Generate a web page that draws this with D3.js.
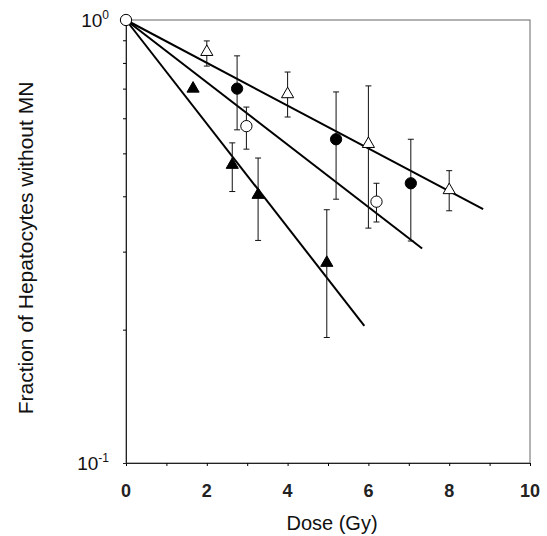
<!DOCTYPE html>
<html>
<head>
<meta charset="utf-8">
<script src="https://cdn.jsdelivr.net/npm/d3@7"></script>
<style>
  body { margin: 0; background: #fff; }
  svg { font-family: "Liberation Sans", Arial, sans-serif; }
</style>
</head>
<body>
<div id="chart"></div>
<script>
// values (dose in Gy, fraction without MN)
const openTriDose = [2, 4, 6, 8];
const openTriVal  = [0.847, 0.68, 0.525, 0.413];
const openTriHi   = [0.897, 0.763, 0.71, 0.457];
const openTriLo   = [0.787, 0.604, 0.339, 0.371];

const fillCircDose = [2.75, 5.2, 7.05];
const fillCircVal  = [0.70, 0.538, 0.428];
const fillCircHi   = [0.83, 0.688, 0.538];
const fillCircLo   = [0.565, 0.394, 0.317];

const openCircDose = [0, 2.98, 6.2];
const openCircVal  = [1.0, 0.576, 0.389];
const openCircHi   = [null, 0.636, 0.428];
const openCircLo   = [null, 0.511, 0.35];

const fillTriDose = [1.66, 2.63, 3.27, 4.97];
const fillTriVal  = [0.70, 0.471, 0.403, 0.283];
const fillTriHi   = [null, 0.528, 0.488, 0.373];
const fillTriLo   = [null, 0.41, 0.318, 0.192];

// fitted lines: start at (0, 1), end point
const fitEndDose = [8.84, 7.33, 5.9];
const fitEndVal  = [0.374, 0.305, 0.204];

const xTicks = [0, 2, 4, 6, 8, 10];
const xMinor = [1, 3, 5, 7, 9];
const yMinor = [0.2, 0.3, 0.4, 0.5, 0.6, 0.7, 0.8, 0.9];

const width = 547, height = 536;
const margin = {top: 20, right: 17, bottom: 73, left: 126};

const x = d3.scaleLinear().domain([0, 10]).range([margin.left, width - margin.right]);
const y = d3.scaleLog().domain([0.1, 1]).range([height - margin.bottom, margin.top]);

const svg = d3.select("#chart").append("svg")
  .attr("width", width)
  .attr("height", height);

// frame (top/right lighter)
svg.append("rect")
  .attr("x", x(0)).attr("y", y(1))
  .attr("width", x(10) - x(0)).attr("height", y(0.1) - y(1))
  .attr("fill", "none")
  .attr("stroke", "#666")
  .attr("stroke-width", 1);

// x axis
const xAxis = svg.append("g")
  .attr("transform", `translate(0,${y(0.1)})`)
  .call(d3.axisBottom(x).tickValues(xTicks.concat(xMinor)).tickSize(3).tickFormat(""));
xAxis.select(".domain").attr("stroke", "#222");

svg.append("g")
  .selectAll("text")
  .data(xTicks)
  .join("text")
  .attr("x", d => x(d))
  .attr("y", y(0.1) + 34)
  .attr("text-anchor", "middle")
  .attr("font-size", 18)
  .attr("font-weight", "bold")
  .attr("fill", "#222")
  .text(d => d);

svg.append("text")
  .attr("x", (x(0) + x(10)) / 2 + 4)
  .attr("y", 530)
  .attr("text-anchor", "middle")
  .attr("font-size", 20)
  .attr("fill", "#111")
  .text("Dose (Gy)");

// y axis
const yAxis = svg.append("g")
  .attr("transform", `translate(${x(0)},0)`)
  .call(d3.axisLeft(y).tickValues(yMinor).tickSize(3).tickFormat(""));
yAxis.select(".domain").attr("stroke", "#222");

[[1, "0"], [0.1, "-1"]].forEach(([v, e]) => {
  const t = svg.append("text")
    .attr("x", x(0) - 17)
    .attr("y", y(v) + 7)
    .attr("text-anchor", "end")
    .attr("font-size", 19)
    .attr("fill", "#111")
    .text("10");
  t.append("tspan")
    .attr("dy", -8)
    .attr("font-size", 12)
    .text(e);
});

svg.append("text")
  .attr("transform", `translate(33,248) rotate(-90)`)
  .attr("text-anchor", "middle")
  .attr("font-size", 21)
  .attr("fill", "#111")
  .text("Fraction of Hepatocytes without MN");

// fitted lines
svg.append("g")
  .selectAll("line")
  .data(fitEndDose)
  .join("line")
  .attr("x1", x(0)).attr("y1", y(1))
  .attr("x2", d => x(d))
  .attr("y2", (d, i) => y(fitEndVal[i]))
  .attr("stroke", "#000")
  .attr("stroke-width", 2);

// error bars
function errorBars(dose, hi, lo) {
  const g = svg.append("g").attr("stroke", "#111").attr("stroke-width", 1);
  dose.forEach((d, i) => {
    if (hi[i] == null) return;
    g.append("line").attr("x1", x(d)).attr("x2", x(d)).attr("y1", y(hi[i])).attr("y2", y(lo[i]));
    g.append("line").attr("x1", x(d) - 3).attr("x2", x(d) + 3).attr("y1", y(hi[i])).attr("y2", y(hi[i]));
    g.append("line").attr("x1", x(d) - 3).attr("x2", x(d) + 3).attr("y1", y(lo[i])).attr("y2", y(lo[i]));
  });
}
errorBars(openTriDose, openTriHi, openTriLo);
errorBars(fillCircDose, fillCircHi, fillCircLo);
errorBars(openCircDose, openCircHi, openCircLo);
errorBars(fillTriDose, fillTriHi, fillTriLo);

// markers
const tri = d3.symbol().type(d3.symbolTriangle).size(64);
const circ = d3.symbol().type(d3.symbolCircle).size(100);

function markers(dose, val, sym, fill) {
  svg.append("g")
    .selectAll("path")
    .data(dose)
    .join("path")
    .attr("d", sym)
    .attr("transform", (d, i) => `translate(${x(d)},${y(val[i])})`)
    .attr("fill", fill)
    .attr("stroke", "#000")
    .attr("stroke-width", 1);
}
markers(openTriDose, openTriVal, tri, "#fff");
markers(fillCircDose, fillCircVal, circ, "#000");
markers(openCircDose, openCircVal, circ, "#fff");
markers(fillTriDose, fillTriVal, tri, "#000");
</script>
</body>
</html>
